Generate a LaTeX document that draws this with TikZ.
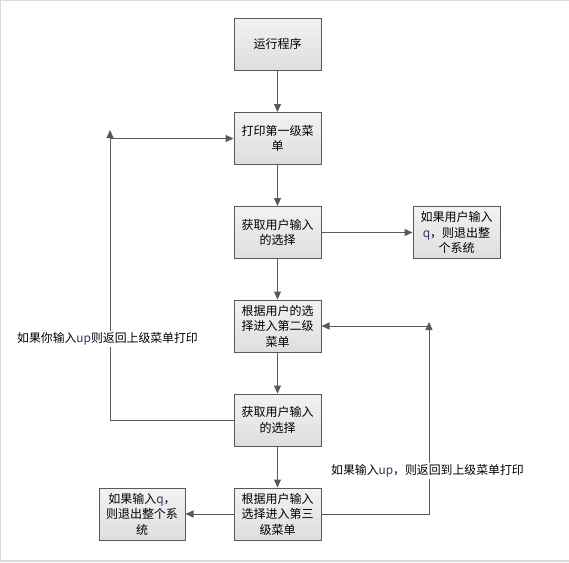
\documentclass[tikz,border=0pt]{standalone}
\usepackage{fontspec}
\newfontfamily\cjk{Noto Sans CJK SC}
\usepackage{tikz}
\usetikzlibrary{arrows.meta,calc}
\definecolor{edgegray}{HTML}{595959}
\definecolor{framegray}{HTML}{DADADA}
\definecolor{uptext}{HTML}{3B3160}
\tikzset{
	thin edge/.style={line width=.75pt}
}
\tikzstyle{menubox}=[rectangle,draw=edgegray,thin edge,top color=white!95!black,bottom color=black!13,minimum width=65.25pt,minimum height=39pt,inner sep=0pt,align=center,font=\cjk\fontsize{9pt}{11.6pt}\selectfont]
\tikzstyle{flow}=[draw=edgegray,thin edge,-{Triangle[length=6pt,width=5.25pt]}]
\tikzstyle{hint}=[fill=white,inner sep=1pt,font=\cjk\fontsize{8.9pt}{11.6pt}\selectfont]
\newcommand{\kw}[1]{\textcolor{uptext}{#1}}

\begin{document}
\begin{tikzpicture}[x=.75pt,y=-.75pt]
	\useasboundingbox (0,0) rectangle (569,562);
	\draw[framegray,line width=1.2pt] (0.5,562) -- (0.5,0.5) -- (569,0.5);
	\draw[framegray,line width=1.2pt] (0,561) -- (569,561);
	\node[menubox] (run) at (277.5,44) {运行程序};
	\node[menubox] (menuA) at (277.5,138.5) {打印第一级菜\\单};
	\node[menubox] (inputA) at (277.5,232.5) {获取用户输入\\的选择};
	\node[menubox] (quitA) at (456.5,232.5) {如果用户输入\\\kw{q}，则退出整\\个系统};
	\node[menubox] (menuB) at (277.5,326) {根据用户的选\\择进入第二级\\菜单};
	\node[menubox] (inputB) at (277.5,420) {获取用户输入\\的选择};
	\node[menubox] (menuC) at (277.5,514) {根据用户输入\\选择进入第三\\级菜单};
	\node[menubox,minimum width=64.5pt] (quitC) at (142,514) {如果输入\kw{q}，\\则退出整个系\\统};
	\coordinate (ltop) at (110,130);
	\coordinate (rtop) at (429,322);
	\draw[flow] (run) -- (menuA);
	\draw[flow] (menuA) -- (inputA);
	\draw[flow] (inputA) -- (menuB);
	\draw[flow] (inputA) -- (quitA);
	\draw[flow] (menuB) -- (inputB);
	\draw[flow] (inputB) -- (menuC);
	\draw[flow] (menuC) -- (quitC);
	\draw[flow] (inputB.west) -| (ltop);
	\draw[flow] (ltop |- menuA.west) -- (menuA.west);
	\draw[flow] (menuC.east) -| (rtop);
	\draw[flow] (rtop |- menuB.east) -- (menuB.east);
	\node[hint] (backA) at (107.5,339) {如果你输入\kw{up}则返回上级菜单打印};
	\node[hint] (backB) at (427.5,471) {如果输入\kw{up}，则返回到上级菜单打印};
\end{tikzpicture}
\end{document}
